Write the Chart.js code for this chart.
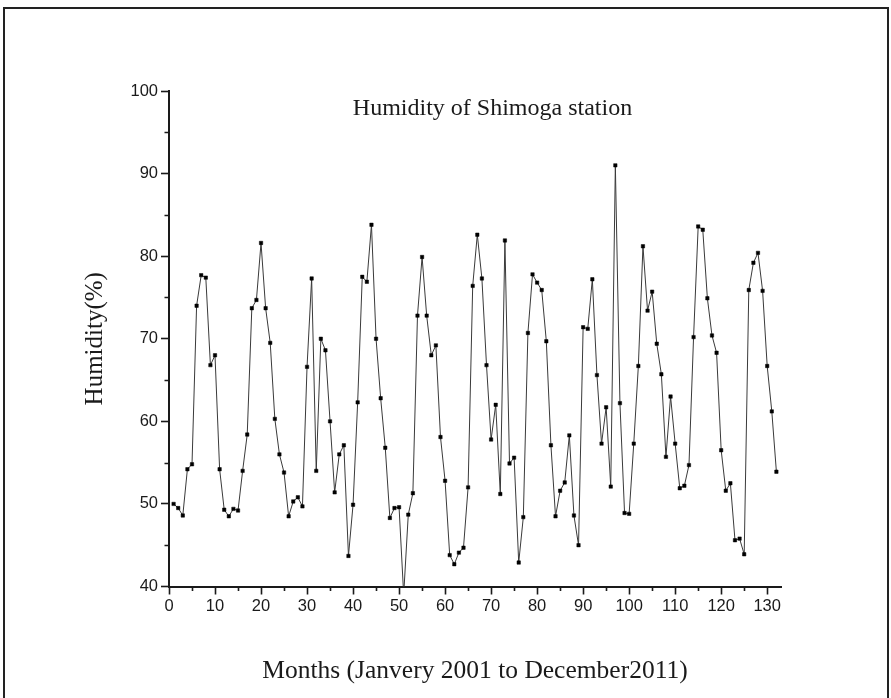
<!DOCTYPE html>
<html>
<head>
<meta charset="utf-8">
<title>Humidity of Shimoga station</title>
<script src="https://cdn.jsdelivr.net/npm/chart.js@4/dist/chart.umd.min.js"></script>
<style>
  html, body { margin: 0; padding: 0; background: #ffffff; }
  #wrap { width: 891px; height: 698px; position: relative; }
  canvas { display: block; }
</style>
</head>
<body>
<div id="wrap"><canvas id="chart" width="891" height="698"></canvas></div>
<script>
// Monthly mean relative humidity (%), January 2001 onward, month index 1..132
const humidity = [
  50.0, 49.5, 48.6, 54.2, 54.8, 74.0, 77.7, 77.4, 66.8, 68.0, 54.2, 49.3,
  48.5, 49.4, 49.2, 54.0, 58.4, 73.7, 74.7, 81.6, 73.7, 69.5, 60.3, 56.0,
  53.8, 48.5, 50.3, 50.8, 49.7, 66.6, 77.3, 54.0, 70.0, 68.6, 60.0, 51.4,
  56.0, 57.1, 43.7, 49.9, 62.3, 77.5, 76.9, 83.8, 70.0, 62.8, 56.8, 48.3,
  49.5, 49.6, 39.0, 48.7, 51.3, 72.8, 79.9, 72.8, 68.0, 69.2, 58.1, 52.8,
  43.8, 42.7, 44.1, 44.7, 52.0, 76.4, 82.6, 77.3, 66.8, 57.8, 62.0, 51.2,
  81.9, 54.9, 55.6, 42.9, 48.4, 70.7, 77.8, 76.8, 75.9, 69.7, 57.1, 48.5,
  51.6, 52.6, 58.3, 48.6, 45.0, 71.4, 71.2, 77.2, 65.6, 57.3, 61.7, 52.1,
  91.0, 62.2, 48.9, 48.8, 57.3, 66.7, 81.2, 73.4, 75.7, 69.4, 65.7, 55.7,
  63.0, 57.3, 51.9, 52.2, 54.7, 70.2, 83.6, 83.2, 74.9, 70.4, 68.3, 56.5,
  51.6, 52.5, 45.6, 45.8, 43.9, 75.9, 79.2, 80.4, 75.8, 66.7, 61.2, 53.9
];

const chartTitle = 'Humidity of Shimoga station';
const xTitle = 'Months (Janvery 2001 to December2011)';
const yTitle = 'Humidity(%)';

// Axis ranges and tick spacing
const xRange = { min: 0, max: 133, major: 10, minor: 5 };
const yRange = { min: 40, max: 100, major: 10, minor: 5 };

const points = humidity.map((v, i) => ({ x: i + 1, y: v }));

const INK = '#1a1a1a';
const SERIF = '"Liberation Serif", "Times New Roman", serif';
const SANS = '"Liberation Sans", Arial, sans-serif';
const isMajor = (v, step) => Math.abs(v % step) < 1e-9;

// Short minor ticks on both axes, drawn through the scales
const minorTicks = {
  id: 'minorTicks',
  afterDraw(chart) {
    const { ctx } = chart;
    const xs = chart.scales.x, ys = chart.scales.y;
    ctx.save();
    ctx.strokeStyle = INK;
    ctx.lineWidth = 1.6;
    ctx.beginPath();
    for (let v = xRange.min; v <= xRange.max; v += xRange.minor) {
      if (isMajor(v, xRange.major)) continue;
      const px = Math.round(xs.getPixelForValue(v)) + 0.5;
      ctx.moveTo(px, xs.top);
      ctx.lineTo(px, xs.top + 4.5);
    }
    for (let v = yRange.min; v <= yRange.max; v += yRange.minor) {
      if (isMajor(v, yRange.major)) continue;
      const py = Math.round(ys.getPixelForValue(v)) + 0.5;
      ctx.moveTo(ys.right, py);
      ctx.lineTo(ys.right - 4.5, py);
    }
    ctx.stroke();
    ctx.restore();
  }
};

// Frame round the figure and the title inside the plot
const frameAndTitle = {
  id: 'frameAndTitle',
  beforeDraw(chart) {
    const { ctx } = chart;
    ctx.save();
    ctx.fillStyle = '#ffffff';
    ctx.fillRect(0, 0, chart.width, chart.height);
    ctx.restore();
  },
  afterDraw(chart) {
    const { ctx } = chart;
    ctx.save();
    ctx.strokeStyle = '#222';
    ctx.lineWidth = 2;
    ctx.strokeRect(4, 8, 884, 700);
    ctx.fillStyle = INK;
    ctx.font = '24px ' + SERIF;
    ctx.textAlign = 'center';
    ctx.textBaseline = 'middle';
    const xs = chart.scales.x, ys = chart.scales.y;
    ctx.fillText(chartTitle, xs.getPixelForValue(70.3), ys.getPixelForValue(97.9));
    ctx.restore();
  }
};

new Chart(document.getElementById('chart'), {
  type: 'line',
  data: {
    datasets: [{
      data: points,
      borderColor: '#3a3a3a',
      borderWidth: 1,
      tension: 0,
      clip: 0,
      pointStyle: 'rect',
      pointRadius: 2.4,
      pointBorderWidth: 0.5,
      pointBackgroundColor: '#000',
      pointBorderColor: '#000'
    }]
  },
  plugins: [minorTicks, frameAndTitle],
  options: {
    responsive: false,
    devicePixelRatio: 1,
    animation: false,
    events: [],
    layout: { padding: { top: 91, right: 110, bottom: 0, left: 0 } },
    plugins: {
      legend: { display: false },
      tooltip: { enabled: false },
      title: { display: false }
    },
    scales: {
      x: {
        type: 'linear',
        min: xRange.min,
        max: xRange.max,
        afterFit(scale) { scale.height = 111.5; },
        border: { display: true, color: INK, width: 2 },
        grid: {
          drawOnChartArea: false,
          drawTicks: true,
          tickLength: 8,
          tickWidth: 1.6,
          tickColor: (c) => isMajor(c.tick.value, xRange.major) ? INK : 'rgba(0,0,0,0)'
        },
        ticks: {
          stepSize: xRange.minor,
          includeBounds: false,
          autoSkip: false,
          maxRotation: 0,
          padding: 2,
          color: INK,
          font: { family: SANS, size: 16.5 },
          callback: (v) => isMajor(v, xRange.major) ? String(v) : ''
        },
        title: {
          display: true,
          text: xTitle,
          color: INK,
          font: { family: SERIF, size: 25.5 },
          padding: { top: 0, bottom: 11 }
        }
      },
      y: {
        type: 'linear',
        min: yRange.min,
        max: yRange.max,
        afterFit(scale) { scale.width = 169; },
        border: { display: true, color: INK, width: 2 },
        grid: {
          drawOnChartArea: false,
          drawTicks: true,
          tickLength: 8,
          tickWidth: 1.6,
          tickColor: (c) => isMajor(c.tick.value, yRange.major) ? INK : 'rgba(0,0,0,0)'
        },
        ticks: {
          stepSize: yRange.minor,
          autoSkip: false,
          padding: 3,
          color: INK,
          font: { family: SANS, size: 16.5 },
          callback: (v) => isMajor(v, yRange.major) ? String(v) : ''
        },
        title: {
          display: true,
          text: yTitle,
          color: INK,
          font: { family: SERIF, size: 25 },
          padding: { top: 80, bottom: 0 }
        }
      }
    }
  }
});
</script>
</body>
</html>
